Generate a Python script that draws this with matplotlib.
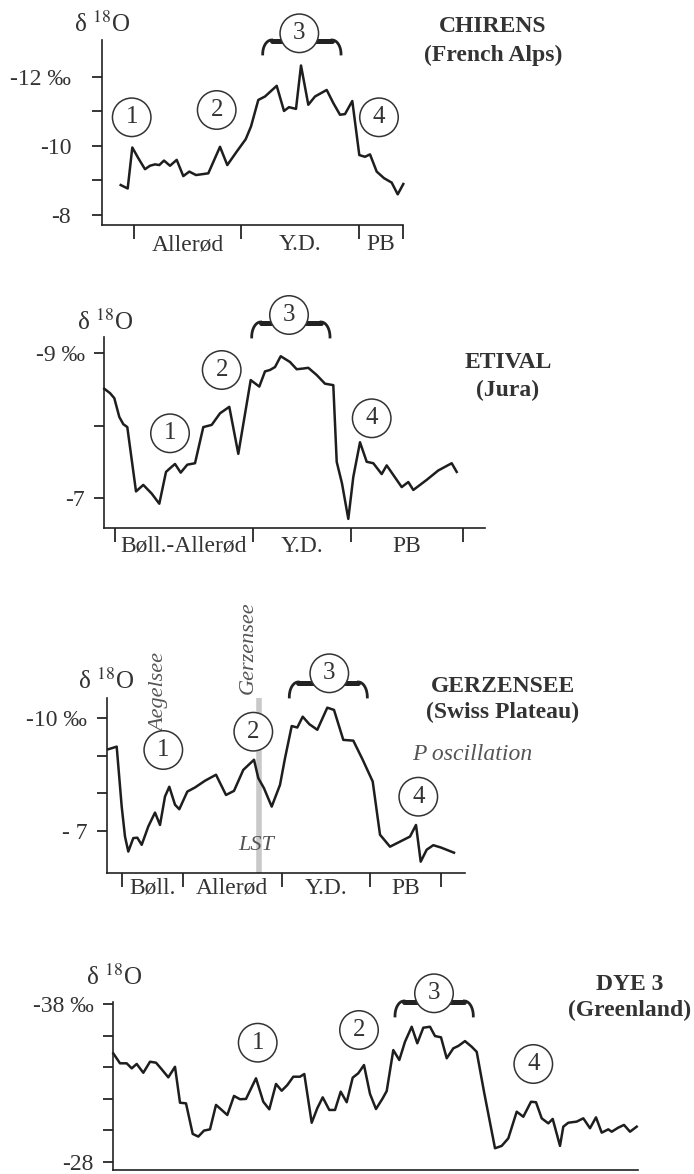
import numpy as np
import matplotlib
matplotlib.use('Agg')
import matplotlib.pyplot as plt
from matplotlib.lines import Line2D

plt.rcParams['font.family'] = ['Liberation Serif', 'DejaVu Serif']
plt.rcParams['mathtext.fontset'] = 'stix'
plt.rcParams['font.size'] = 17

W, H = 694, 1174

# ---- data: x = position along the record (arbitrary units), y = delta 18O (permil)
chirens_x = [19.0, 26.0, 30.6, 36.6, 43.3, 48.3, 53.3, 57.6, 62.3, 68.3, 75.0, 81.6, 87.6, 94.3,
             106.6, 118.3, 125.6, 135.0, 144.0, 149.3, 156.6, 163.3, 175.0, 182.3, 187.3, 194.3,
             199.3, 206.6, 213.3, 225.0, 231.6, 238.3, 243.3, 250.6, 257.6, 263.3, 268.3, 275.0,
             282.3, 290.0, 296.0, 301.6]
chirens_d18o = [-8.86, -8.76, -9.95, -9.64, -9.32, -9.42, -9.46, -9.44, -9.57, -9.42, -9.59, -9.12,
                -9.25, -9.15, -9.20, -9.97, -9.44, -9.83, -10.19, -10.56, -11.33, -11.43, -11.74,
                -11.01, -11.12, -11.07, -12.33, -11.19, -11.43, -11.62, -11.24, -10.90, -10.92,
                -11.30, -9.73, -9.68, -9.75, -9.25, -9.06, -8.93, -8.59, -8.89]
chirens_bounds = [32.3, 139.3, 257.3, 301]
chirens_zones = ['Allerød', 'Y.D.', 'PB']

etival_x = [0.0, 5.7, 10.0, 15.0, 19.0, 23.0, 31.7, 39.0, 47.4, 55.0, 61.7, 65.7, 70.7, 76.4, 83.0,
            90.7, 99.0, 107.4, 115.7, 125.0, 134.0, 146.4, 155.0, 160.7, 165.7, 170.7, 176.4, 185.7,
            192.4, 199.0, 204.0, 212.4, 220.7, 229.0, 232.4, 237.7, 244.0, 249.0, 255.7, 262.4,
            269.0, 277.4, 282.4, 297.4, 304.0, 309.0, 322.4, 334.0, 347.4, 352.4]
etival_d18o = [-8.51, -8.45, -8.38, -8.12, -8.02, -7.98, -7.09, -7.18, -7.06, -6.92, -7.36, -7.41,
               -7.47, -7.35, -7.46, -7.48, -7.98, -8.01, -8.17, -8.26, -7.61, -8.63, -8.54, -8.75,
               -8.77, -8.81, -8.96, -8.88, -8.78, -8.79, -8.80, -8.70, -8.58, -8.56, -7.50, -7.20,
               -6.71, -7.29, -7.77, -7.50, -7.48, -7.33, -7.45, -7.15, -7.22, -7.11, -7.25, -7.38,
               -7.48, -7.36]
etival_bounds = [10.7, 148.4, 246.7, 359]
etival_zones = ['Bøll.-Allerød', 'Y.D.', 'PB']

gerz_x = [1.6, 10.0, 15.0, 18.3, 21.6, 26.6, 30.6, 35.0, 41.6, 48.3, 53.3, 58.3, 62.6, 68.3, 72.6,
          80.6, 88.3, 98.3, 109.3, 119.3, 127.3, 136.6, 147.3, 151.6, 157.3, 165.0, 173.3, 178.3,
          185.0, 190.6, 196.0, 202.6, 210.6, 220.6, 227.3, 236.6, 246.6, 256.0, 266.0, 273.3,
          283.3, 303.3, 309.3, 314.0, 320.0, 326.6, 334.0, 347.3]
gerz_d18o = [-9.17, -9.24, -7.64, -6.84, -6.44, -6.80, -6.81, -6.62, -7.11, -7.48, -7.15, -7.91,
             -8.17, -7.69, -7.57, -8.04, -8.15, -8.33, -8.49, -7.95, -8.06, -8.62, -8.89, -8.40,
             -8.13, -7.64, -8.22, -8.93, -9.79, -9.75, -10.04, -9.84, -9.69, -10.28, -10.22, -9.42,
             -9.40, -8.89, -8.31, -6.89, -6.57, -6.84, -7.15, -6.17, -6.49, -6.61, -6.55, -6.41]
gerz_bounds = [15.0, 76.0, 175.0, 263.3, 334.0]
gerz_zones = ['Bøll.', 'Allerød', 'Y.D.', 'PB']
gerz_lst = 152.6

dye3_x = [0.0, 6.7, 13.4, 18.4, 23.4, 30.0, 36.7, 42.7, 48.4, 55.0, 61.7, 66.7, 72.7, 79.4, 85.0,
          90.7, 96.7, 102.7, 108.4, 114.0, 120.7, 126.7, 132.7, 142.7, 150.0, 156.0, 162.7, 168.4,
          174.0, 180.0, 186.7, 191.0, 198.4, 204.0, 209.4, 216.0, 221.7, 227.4, 233.4, 239.4,
          245.0, 250.7, 256.7, 262.7, 269.4, 273.4, 280.0, 286.0, 291.7, 298.4, 304.0, 310.0,
          316.7, 321.7, 327.7, 333.4, 340.0, 345.0, 351.7, 358.4, 363.4, 370.7, 381.7, 388.4,
          395.0, 403.4, 410.0, 417.7, 422.7, 428.4, 435.0, 439.4, 446.7, 450.0, 455.0, 463.4,
          470.0, 476.7, 482.7, 488.4, 495.0, 498.4, 505.0, 510.7, 516.7, 523.4]
dye3_d18o = [-34.87, -34.24, -34.24, -33.92, -34.20, -33.64, -34.34, -34.28, -33.86, -33.35, -34.02,
             -31.74, -31.70, -29.76, -29.59, -29.97, -30.05, -31.60, -31.28, -30.96, -32.17, -31.96,
             -31.98, -33.29, -31.80, -31.32, -32.93, -32.50, -32.86, -33.39, -33.39, -33.56, -30.47,
             -31.39, -32.08, -31.28, -31.28, -32.44, -31.77, -33.33, -33.61, -34.13, -32.30, -31.34,
             -32.02, -32.48, -35.08, -34.45, -35.61, -36.56, -35.51, -36.50, -36.56, -35.97, -35.89,
             -34.56, -35.19, -35.34, -35.65, -35.29, -34.97, -32.44, -28.85, -29.00, -29.48, -31.17,
             -30.85, -31.80, -31.77, -30.75, -30.43, -30.71, -29.00, -30.22, -30.47, -30.54, -30.75,
             -30.12, -30.81, -29.84, -30.05, -29.90, -30.16, -30.33, -29.90, -30.22]

TXT = '#333333'
LINE = '#1e1e1e'

fig = plt.figure(figsize=(W / 100, H / 100), dpi=100)


def fx(x):
    return x / W


def fy(y):
    return 1 - y / H


def ftext(x, y, s, **kw):
    kw.setdefault('color', TXT)
    return fig.text(fx(x), fy(y), s, **kw)


def make_axes(left, top, right, bottom):
    return fig.add_axes([fx(left), fy(bottom), (right - left) / W, (bottom - top) / H])


def circled(x, y, n):
    ftext(x, y, str(n), ha='center', va='center', fontsize=18, zorder=6,
          bbox=dict(boxstyle='circle,pad=0.33', fc='white', ec='#333333', lw=1.1))


def brace(x0, x1, ytop, ybot):
    r = 9
    t = np.linspace(0, np.pi / 2, 20)
    lx = x0 + r * (1 - np.cos(t))
    ly = ybot - (ybot - ytop) * np.sin(t)
    rx = x1 - r * (1 - np.cos(t))
    for xs, ys in [(lx, ly), (rx, ly)]:
        fig.add_artist(Line2D(fx(xs), fy(ys), lw=2.0, color='#222222', zorder=4))
    fig.add_artist(Line2D([fx(x0 + r), fx(x1 - r)], [fy(ytop + 1), fy(ytop + 1)],
                          lw=3.6, color='#222222', zorder=4, solid_capstyle='round'))


panels = [
    dict(x=chirens_x, y=chirens_d18o, box=(101.7, 40, 402.7, 225), xmax=301,
         ylim=(-7.70, -13.07), yticks=[-12, -11, -10, -9, -8],
         ylabels=['-12 ‰', '', '-10', '', '-8'], pad=15,
         bounds=chirens_bounds, zones=chirens_zones, zoff=20),
    dict(x=etival_x, y=etival_d18o, box=(104.3, 336.7, 485, 528.3), xmax=380.7,
         ylim=(-6.58, -9.23), yticks=[-9, -8, -7],
         ylabels=['-9 ‰', '', '-7'], pad=7,
         bounds=etival_bounds, zones=etival_zones, zoff=18),
    dict(x=gerz_x, y=gerz_d18o, box=(106.7, 698.3, 465, 873.3), xmax=358.3,
         ylim=(-5.86, -10.53), yticks=[-10, -9, -8, -7],
         ylabels=['-10 ‰', '', '', '- 7'], pad=7,
         bounds=gerz_bounds, zones=gerz_zones, zoff=15),
    dict(x=dye3_x, y=dye3_d18o, box=(113.3, 1001.7, 638.3, 1170), xmax=525,
         ylim=(-27.47, -38.15), yticks=[-38, -36, -34, -32, -30, -28],
         ylabels=['-38 ‰', '', '', '', '', '-28'], pad=7,
         bounds=[], zones=[], zoff=0),
]

axes = []
for p in panels:
    ax = make_axes(*p['box'])
    ax.plot(p['x'], p['y'], color=LINE, lw=1.8, clip_on=False, zorder=3)
    ax.set_xlim(0, p['xmax'])
    ax.set_ylim(*p['ylim'])
    for s in ['top', 'right']:
        ax.spines[s].set_visible(False)
    for s in ['left', 'bottom']:
        ax.spines[s].set_linewidth(1.2)
        ax.spines[s].set_color('#222222')
    ax.set_yticks(p['yticks'])
    ax.set_yticklabels(p['ylabels'], color=TXT, fontsize=17)
    ax.tick_params(axis='y', direction='out', length=7, width=1.1, pad=p['pad'])
    ax.set_xticks(p['bounds'])
    ax.set_xticklabels([])
    ax.tick_params(axis='x', direction='out', length=10, width=1.1)
    b = p['bounds']
    for i, name in enumerate(p['zones']):
        ax.annotate(name, xy=((b[i] + b[i + 1]) / 2, 0), xycoords=('data', 'axes fraction'),
                    xytext=(0, -p['zoff']), textcoords='offset pixels',
                    ha='center', va='center', fontsize=17, color=TXT)
    ax.patch.set_alpha(0)
    axes.append(ax)

# LST band in Gerzensee
axes[2].axvline(gerz_lst, color='#c9c9c9', lw=4, zorder=1)

# delta 18O labels
for x, y in [(130, 24), (133, 322), (134, 681), (142, 977)]:
    ftext(x, y, 'δ $^{18}$O', ha='right', va='center', fontsize=18)

# site names
sites = [(493, 27, 'CHIRENS', '(French Alps)', 28),
         (508, 362, 'ETIVAL', '(Jura)', 28),
         (503, 687, 'GERZENSEE', '(Swiss Plateau)', 25),
         (630, 984, 'DYE 3', '(Greenland)', 26)]
for x, y, name, region, dy in sites:
    ftext(x, y, name, ha='center', va='center', fontsize=17, fontweight='bold')
    ftext(x, y + dy, region, ha='center', va='center', fontsize=17, fontweight='bold')

# circled event numbers and braces
circles = [[(131.7, 117.3), (216.7, 110), (299.3, 33.3), (379, 117.3)],
           [(170, 433.3), (221.7, 370), (289, 315), (371.7, 418.3)],
           [(163.3, 750), (253.3, 731.7), (329.3, 673.3), (418.3, 796.7)],
           [(257.7, 1042.7), (359, 1030), (434, 993.3), (533.3, 1064)]]
for row in circles:
    for n, (x, y) in enumerate(row, start=1):
        circled(x, y, n)

brace(262.7, 341, 40, 54)
brace(251.7, 330, 322, 337)
brace(289.3, 367.3, 682, 697)
brace(395, 473.3, 1001, 1016)

# Gerzensee annotations
GRAY = '#555555'
ftext(160, 692, 'Aegelsee', rotation=90, ha='center', va='center', fontsize=16,
      style='italic', color=GRAY)
ftext(248.3, 648, 'Gerzensee', rotation=90, ha='center', va='center', fontsize=16,
      style='italic', color=GRAY)
ftext(256, 845, 'LST', ha='center', va='center', fontsize=16, style='italic', color=GRAY)
ftext(412, 755, 'P oscillation', ha='left', va='center', fontsize=17, style='italic', color=GRAY)

fig.savefig('out.png', dpi=100)
